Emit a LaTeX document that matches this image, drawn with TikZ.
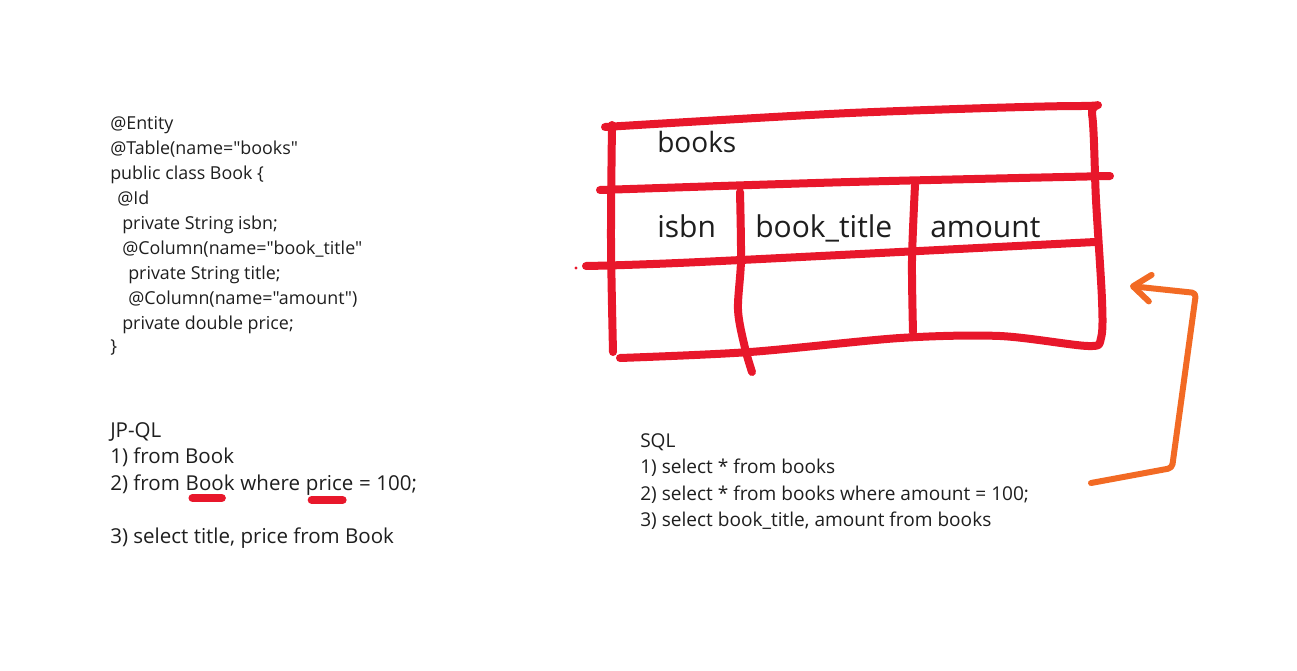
\documentclass[tikz,border=0pt]{standalone}
\usepackage{fontspec}
\setmainfont{Open Sans}[Ligatures=TeXOff]
\usetikzlibrary{arrows.meta}
\definecolor{tred}{HTML}{E8172B}
\definecolor{torange}{HTML}{F26A24}
\definecolor{ink}{HTML}{1E1E1E}
\begin{document}
\begin{tikzpicture}[x=0.75pt,y=-0.75pt,
  code/.style={anchor=base west, inner sep=0pt, text=ink, font=\fontsize{13.4}{16}\selectfont},
  jpql/.style={anchor=base west, inner sep=0pt, text=ink, font=\fontsize{15.4}{18}\selectfont},
  sql/.style={anchor=base west, inner sep=0pt, text=ink, font=\fontsize{14.3}{17}\selectfont},
  cell/.style={anchor=base west, inner sep=0pt, text=ink, font=\fontsize{22.5}{26}\selectfont},
  tline/.style={draw=tred, line width=6pt, line cap=round, line join=round},
  uline/.style={draw=tred, line width=6pt, line cap=round},
  arrowline/.style={draw=torange, line width=4.5pt, line cap=round, line join=round, rounded corners=3pt,
    -{Straight Barb[length=13pt, width=20pt, line cap=round, line join=round]}}]
\useasboundingbox (0,0) rectangle (1297,671);

% ---------------- code block ----------------
\node[code] (c1)  at (110,129) {@Entity};
\node[code] (c2)  at (110,154) {@Table(name="books"};
\node[code] (c3)  at (110,179) {public class Book \{};
\node[code] (c4)  at (117,204) {@Id};
\node[code] (c5)  at (122,229) {private String isbn;};
\node[code] (c6)  at (122,254) {@Column(name="book\_title"};
\node[code] (c7)  at (128,279) {private String title;};
\node[code] (c8)  at (128,304) {@Column(name="amount")};
\node[code] (c9)  at (122,329) {private double price;};
\node[code] (c10) at (110,352) {\}};

% ---------------- JP-QL ----------------
\node[jpql] (j0) at (110,437) {JP-QL};
\node[jpql] (j1) at (110,463) {1) from Book};
\node[jpql] (j2a) at (110,490) {2) from~\null};
\node[jpql] (j2b) at (j2a.base east) {Book};
\node[jpql] (j2c) at (j2b.base east) {~where~\null};
\node[jpql] (j2d) at (j2c.base east) {price};
\node[jpql] (j2e) at (j2d.base east) {~=~100;};
\node[jpql] (j3) at (110,543) {3) select title, price from Book};
\draw[uline] ([shift={(7,8)}]j2b.base west) -- ([shift={(-13,8)}]j2b.base east);
\draw[uline] ([shift={(6,10)}]j2d.base west) -- ([shift={(-11,10)}]j2d.base east);

% ---------------- SQL ----------------
\node[sql] (s0) at (640,447) {SQL};
\node[sql] (s1) at (640,473) {1) select * from books};
\node[sql] (s2) at (640,500) {2) select * from books where amount = 100;};
\node[sql] (s3) at (640,526) {3) select book\_title, amount from books};

% ---------------- table ----------------
\draw[tline] plot[smooth, tension=0.5] coordinates {(605,127) (850,113) (1080,106) (1092,114) (1096,200) (1102,300) (1101,338) (1088,346) (1000,336) (900,338) (750,352) (620,358)};
\draw[tline] plot[smooth, tension=0.5] coordinates {(612,125) (611,240) (613,352)};
\draw[tline] plot[smooth, tension=0.5] coordinates {(600,190) (850,182) (1110,176)};
\draw[tline] plot[smooth, tension=0.5] coordinates {(586,266) (700,262) (1095,242)};
\fill[tred] (576,268) circle (1.6);
\draw[tline] plot[smooth, tension=0.5] coordinates {(740,192) (741,260) (738,310) (745,348) (752,372)};
\draw[tline] plot[smooth, tension=0.5] coordinates {(915,185) (912,260) (913,332)};

\node[cell, font=\fontsize{21}{25}\selectfont] (tb) at (657,152) {books};
\node[cell] (ti) at (657,237) {isbn};
\node[cell] (tt) at (755,237) {book\_title};
\node[cell] (ta) at (930,237) {amount};

% ---------------- arrow ----------------
\coordinate (as) at (1091,483);
\coordinate (ae) at (1130,286);
\draw[arrowline] (as) -- (1172,468) -- (1196,293) -- (ae);
\end{tikzpicture}
\end{document}
